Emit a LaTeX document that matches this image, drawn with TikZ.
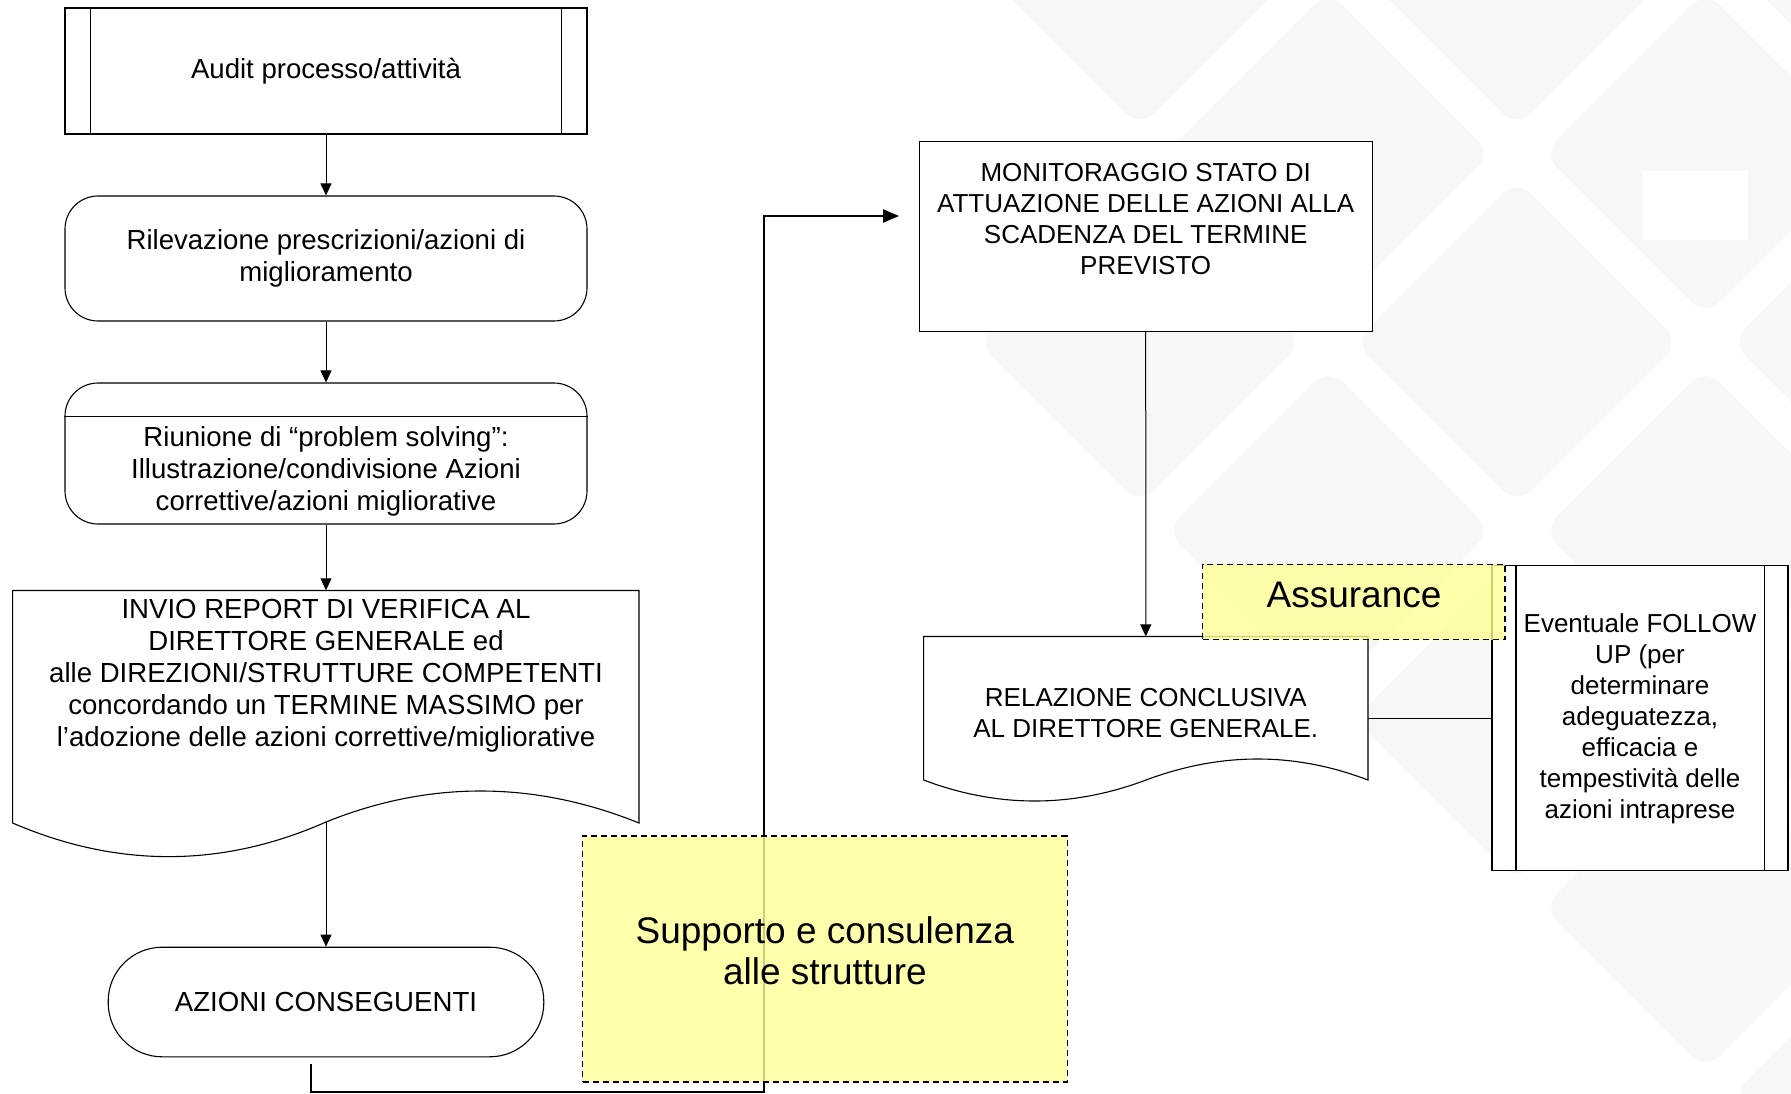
\documentclass[tikz,border=0pt]{standalone}
\usepackage{fontspec}
\setmainfont{Liberation Sans}
\usetikzlibrary{arrows.meta}

\definecolor{fondo}{RGB}{246,248,246}
\definecolor{giallo}{RGB}{255,255,150}

\tikzset{
  box/.style={draw, line width=1.1pt, fill=white, inner sep=0pt},
  tondo/.style={box, rounded corners=33pt},
  testo/.style={align=center, inner sep=0pt, font=\fontsize{27.6}{32}\selectfont},
  testodx/.style={align=center, inner sep=0pt, font=\fontsize{26}{31}\selectfont},
  grande/.style={align=center, inner sep=0pt, font=\fontsize{37}{41}\selectfont},
  nota/.style={draw, dash pattern=on 6pt off 4pt, line width=1.1pt, fill=giallo, fill opacity=0.8},
  freccia/.style={line width=1pt, -{Triangle[length=12pt,width=11pt]}},
  ritorno/.style={line width=2pt, -{Triangle[length=16pt,width=13pt]}},
}

\begin{document}
\begin{tikzpicture}[x=1pt,y=-1pt]
    \useasboundingbox (0,0) rectangle (1791,1094);

    % sfondo a rombi
    \foreach \i/\j in {0/0,0/2,1/1,1/3,2/0,2/2,2/4,3/1,3/3,3/5,4/0,4/2,4/4,4/6}{
        \pgfmathsetmacro\cx{1140+188.5*\i}
        \pgfmathsetmacro\cy{-35+188.5*\j}
        \fill[fondo, rounded corners=20pt, rotate around={45:(\cx,\cy)}]
            (\cx-115,\cy-115) rectangle (\cx+115,\cy+115);
    }
    \fill[white] (1642,171) rectangle (1748,240);

    % colonna di sinistra
    \node[box, testo, minimum width=522pt, minimum height=126pt] (audit) at (326,71) {Audit processo/attività};
    \draw[line width=1.1pt] ([xshift=26pt]audit.north west) -- ([xshift=26pt]audit.south west);
    \draw[line width=1.1pt] ([xshift=-26pt]audit.north east) -- ([xshift=-26pt]audit.south east);

    \node[tondo, testo, minimum width=522pt, minimum height=125pt] (rilev) at (326,258.5) {Rilevazione prescrizioni/azioni di\\miglioramento};

    \node[tondo, minimum width=522pt, minimum height=141pt] (riun) at (326,453.5) {};
    \draw[line width=1.1pt] ([yshift=-34pt]riun.north west) -- ([yshift=-34pt]riun.north east);
    \node[testo] (riuntxt) at (326,471) {Riunione di “problem solving”:\\Illustrazione/condivisione Azioni\\correttive/azioni migliorative};

    \draw[line width=1.1pt, fill=white] (12.6,823) -- (12.6,590.5) -- (639,590.5) -- (639,823)
        .. controls (535,781) and (430,780) .. (326,822)
        .. controls (222,868) and (117,868) .. (12.6,823) -- cycle;
    \node[testo, minimum width=626pt, minimum height=170pt] (invio) at (326,675.5) {INVIO REPORT DI VERIFICA AL\\DIRETTORE GENERALE ed\\alle DIREZIONI/STRUTTURE COMPETENTI\\concordando un TERMINE MASSIMO per\\l’adozione delle azioni correttive/migliorative};
    \coordinate (invioonda) at (326,822);

    \node[box, testo, rounded corners=54pt, minimum width=435.6pt, minimum height=109.6pt] (azioni) at (326,1002) {AZIONI CONSEGUENTI};

    % colonna di destra
    \node[box, minimum width=452.7pt, minimum height=190pt] (monitor) at (1145.7,236.4) {};
    \node[testodx] (montxt) at (1145.7,219.5) {MONITORAGGIO STATO DI\\ATTUAZIONE DELLE AZIONI ALLA\\SCADENZA DEL TERMINE\\PREVISTO};

    \draw[line width=1.1pt, fill=white] (923.6,780) -- (923.6,636.5) -- (1368,636.5) -- (1368,780)
        .. controls (1294.5,752) and (1221,752) .. (1146,780)
        .. controls (1071.6,808) and (997.6,808) .. (923.6,780) -- cycle;
    \node[testodx, minimum width=444pt, minimum height=152pt] (relaz) at (1145.8,712.6) {RELAZIONE CONCLUSIVA\\AL DIRETTORE GENERALE.};

    \node[box, testodx, minimum width=296pt, minimum height=305pt] (follow) at (1640,718.4) {Eventuale FOLLOW\\UP (per\\determinare\\adeguatezza,\\efficacia e\\tempestività delle\\azioni intraprese};
    \draw[line width=1.1pt] ([xshift=24.5pt]follow.north west) -- ([xshift=24.5pt]follow.south west);
    \draw[line width=1.1pt] ([xshift=-24.5pt]follow.north east) -- ([xshift=-24.5pt]follow.south east);

    % collegamenti
    \draw[freccia] (audit) -- (rilev);
    \draw[freccia] (rilev) -- (riun);
    \draw[freccia] (riun) -- (invio);
    \draw[freccia] (invioonda) -- (azioni);
    \draw[freccia] (monitor) -- (relaz);
    \draw[line width=1.1pt] (relaz.east |- follow.west) -- (follow.west);

    \coordinate (angolo) at (764,1092);
    \draw[ritorno, shorten >=19.7pt] ([xshift=-15pt,yshift=-7pt]azioni.south) |- (angolo) |- ([yshift=20.4pt]monitor.west);

    % riquadri gialli
    \node[nota, minimum width=484.3pt, minimum height=246pt] (supporto) at (824.9,959) {};
    \node[grande] (supptxt) at (824.9,950.5) {Supporto e consulenza\\alle strutture};
    \node[nota, minimum width=302.5pt, minimum height=75.7pt] (assurance) at (1353.75,601.9) {};
    \node[grande] (asstxt) at (1354,595) {Assurance};

\end{tikzpicture}
\end{document}
